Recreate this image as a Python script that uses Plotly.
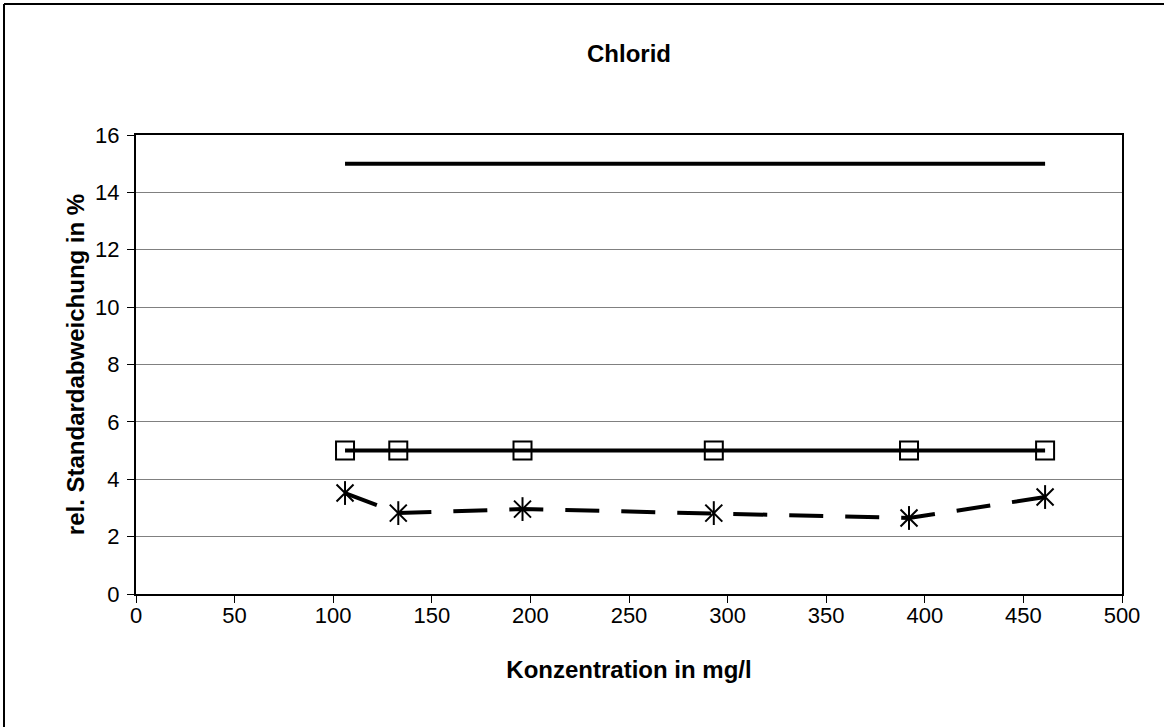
import plotly.graph_objects as go

# data
konz = [106, 133, 196, 293, 392, 461]
limit_15 = [15, 15, 15, 15, 15, 15]
limit_5 = [5, 5, 5, 5, 5, 5]
rsd = [3.52, 2.82, 2.96, 2.82, 2.65, 3.38]

FONT = "Liberation Sans, Arial, sans-serif"
W, H = 1164, 727
L, R, T, B = 136, 42, 135, 133
PW, PH = W - L - R, H - T - B

fig = go.Figure()

fig.add_trace(go.Scatter(
    x=konz, y=limit_15, mode="lines",
    line=dict(color="black", width=4),
    showlegend=False,
))
fig.add_trace(go.Scatter(
    x=konz, y=limit_5, mode="lines+markers",
    line=dict(color="black", width=4),
    marker=dict(symbol="square-open", size=18, color="black", line=dict(width=2)),
    showlegend=False,
))
fig.add_trace(go.Scatter(
    x=konz, y=rsd, mode="lines+markers",
    line=dict(color="black", width=4, dash="34px,22px"),
    marker=dict(symbol="x-thin-open", size=17, color="black", line=dict(width=2, color="black")),
    showlegend=False,
))
# vertical stroke of the asterisk marker
fig.add_trace(go.Scatter(
    x=konz, y=rsd, mode="markers",
    marker=dict(symbol="line-ns-open", size=17, color="black", line=dict(width=2, color="black")),
    showlegend=False,
))

fig.update_layout(
    width=W, height=H,
    margin=dict(l=L, r=R, t=T, b=B),
    paper_bgcolor="white",
    plot_bgcolor="white",
    font=dict(family=FONT, size=22, color="black"),
    title=dict(text="<b>Chlorid</b>", x=0.5, xref="paper", xanchor="center",
               y=1 - 54 / H, yanchor="middle", font=dict(size=24)),
    shapes=[
        # outer chart frame (only top and left edges are visible)
        dict(type="line", xref="paper", yref="paper",
             x0=-(L - 4) / PW, x1=(W - L + 10) / PW, y0=1 + (T - 4) / PH, y1=1 + (T - 4) / PH,
             line=dict(color="black", width=2)),
        dict(type="line", xref="paper", yref="paper",
             x0=-(L - 4) / PW, x1=-(L - 4) / PW, y0=-(B + 10) / PH, y1=1 + (T - 4) / PH,
             line=dict(color="black", width=2)),
    ],
)

fig.update_xaxes(
    range=[0, 500], dtick=50, tick0=0,
    showline=True, linecolor="black", linewidth=2, mirror=True,
    ticks="outside", ticklen=7, tickcolor="black", tickwidth=1,
    ticklabelstandoff=-6,
    showgrid=False, zeroline=False,
    title=dict(text="<b>Konzentration in mg/l</b>", font=dict(size=24), standoff=34),
)
fig.update_yaxes(
    range=[0, 16], dtick=2, tick0=0,
    showline=True, linecolor="black", linewidth=2, mirror=True,
    ticks="outside", ticklen=7, tickcolor="black", tickwidth=1,
    ticklabelstandoff=3,
    showgrid=True, gridcolor="#808080", gridwidth=1, zeroline=False,
    title=dict(text="<b>rel. Standardabweichung in %</b>", font=dict(size=24), standoff=4),
)

fig.write_html("out.html", config={"displayModeBar": False},
               post_script="document.body.style.margin='0';")
